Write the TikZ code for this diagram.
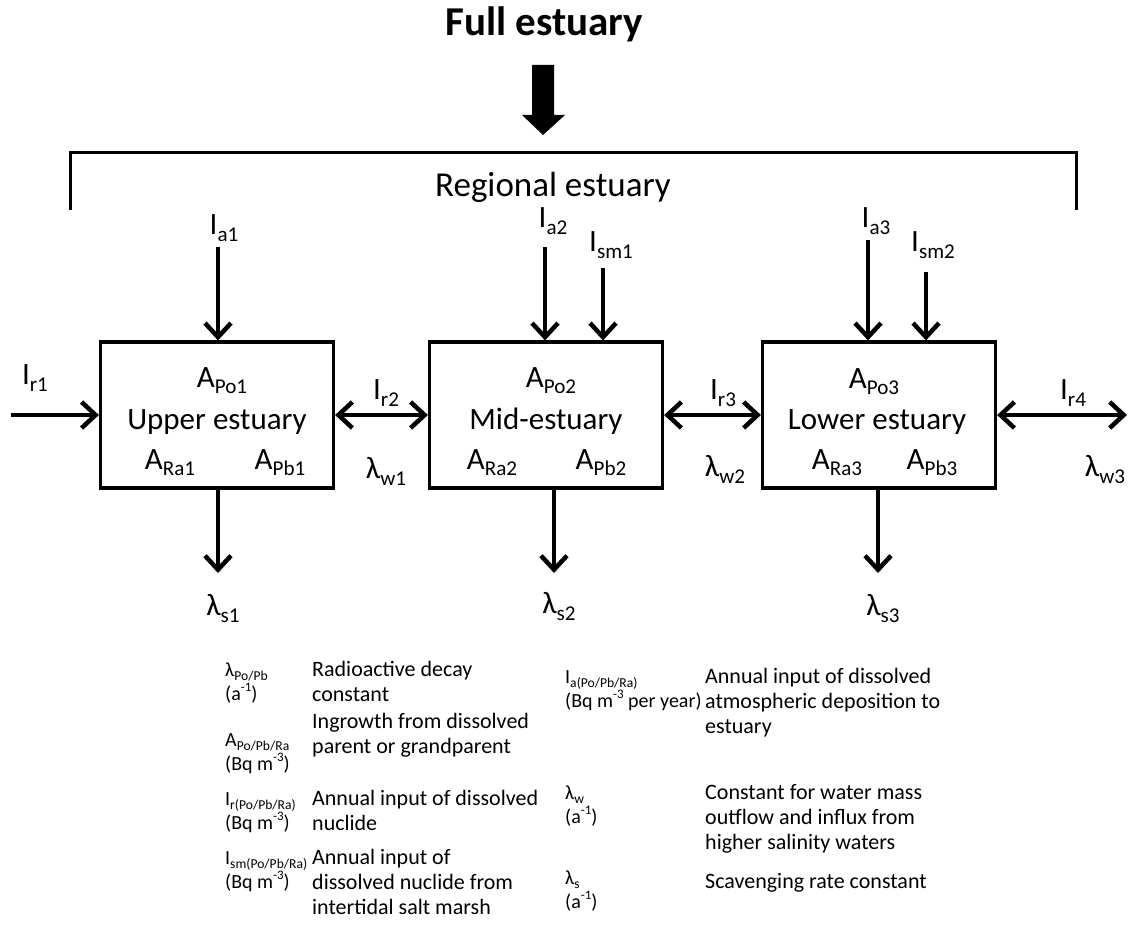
\documentclass[tikz,border=0pt]{standalone}
\usepackage{fontspec}
\setmainfont{Carlito}
\usetikzlibrary{arrows.meta,calc}

\newcommand{\sbs}[1]{\raisebox{-0.22em}{\fontsize{0.68em}{0.8em}\selectfont #1}}
\newcommand{\sps}[1]{\raisebox{0.42em}{\fontsize{0.65em}{0.8em}\selectfont #1}}
\newcommand{\boxfont}{\fontsize{31}{36}\selectfont}
\newcommand{\legfont}{\fontsize{22}{25}\selectfont}
\newcommand{\symfont}{\fontsize{20}{24}\selectfont}

\begin{document}
\begin{tikzpicture}[x=1pt,y=-1pt,>={Straight Barb[length=14pt,width=26pt]},
  comp/.style={draw,line width=3.2pt,minimum width=233pt,minimum height=146pt,inner sep=0pt},
  flow/.style={line width=4.5pt},
  lab/.style={inner sep=0pt,font=\boxfont},
  sym/.style={inner sep=0pt,anchor=base west,align=left,font=\symfont},
  note/.style={inner sep=0pt,anchor=base west,align=left,font=\legfont}]
\useasboundingbox (0,0) rectangle (1131,928);

% full and regional estuary
\node[lab,anchor=base,font=\fontsize{41}{48}\selectfont\bfseries] (full) at (544,36) {Full estuary};
\fill (532,65) -- (554,65) -- (554,115) -- (565,115) -- (543,135) -- (522,115) -- (532,115) -- cycle;
\draw[line width=3pt] (70,210) -- (70,153) -- (1076,153) -- (1076,210);
\node[lab,anchor=base,font=\fontsize{35}{40}\selectfont] (reg) at (553,196) {Regional estuary};

% boxes
\node[comp] (b1) at (217,415) {};
\node[comp] (b2) at (546,415) {};
\node[comp] (b3) at (879,415) {};
\node[lab,anchor=base] (po1) at (222,387) {A\sbs{Po1}};
\node[lab,anchor=base] (n1)  at (217,429) {Upper estuary};
\node[lab,anchor=base] (ra1) at (170,469) {A\sbs{Ra1}};
\node[lab,anchor=base] (pb1) at (280,469) {A\sbs{Pb1}};
\node[lab,anchor=base] (po2) at (551,387) {A\sbs{Po2}};
\node[lab,anchor=base] (n2)  at (546,429) {Mid-estuary};
\node[lab,anchor=base] (ra2) at (492,469) {A\sbs{Ra2}};
\node[lab,anchor=base] (pb2) at (601,469) {A\sbs{Pb2}};
\node[lab,anchor=base] (po3) at (874,388) {A\sbs{Po3}};
\node[lab,anchor=base] (n3)  at (877,429) {Lower estuary};
\node[lab,anchor=base] (ra3) at (837,469) {A\sbs{Ra3}};
\node[lab,anchor=base] (pb3) at (932,469) {A\sbs{Pb3}};

% inputs from above
\coordinate (ta1) at (218,247);
\coordinate (ta2) at (545,247);
\coordinate (tsm1) at (603,268);
\coordinate (ta3) at (868,240);
\coordinate (tsm2) at (926,272);
\node[lab,anchor=south] (ia1) at (224,242) {I\sbs{a1}};
\node[lab,anchor=south] (ia2) at (553,235) {I\sbs{a2}};
\node[lab,anchor=south] (ism1) at (611,259) {I\sbs{sm1}};
\node[lab,anchor=south] (ia3) at (876,235) {I\sbs{a3}};
\node[lab,anchor=south] (ism2) at (933,259) {I\sbs{sm2}};
\draw[flow,->] (ta1) -- (ta1 |- b1.north);
\draw[flow,->] (ta2) -- (ta2 |- b2.north);
\draw[flow,->] (tsm1) -- (tsm1 |- b2.north);
\draw[flow,->] (ta3) -- (ta3 |- b3.north);
\draw[flow,->] (tsm2) -- (tsm2 |- b3.north);

% scavenging
\coordinate (s1) at (218,573);
\coordinate (s2) at (554,573);
\coordinate (s3) at (878,573);
\draw[flow,->] (s1 |- b1.south) -- (s1);
\draw[flow,->] (s2 |- b2.south) -- (s2);
\draw[flow,->] (s3 |- b3.south) -- (s3);
\node[lab,anchor=north] (ls1) at (223,594) {λ\sbs{s1}};
\node[lab,anchor=north] (ls2) at (559,592) {λ\sbs{s2}};
\node[lab,anchor=north] (ls3) at (883,594) {λ\sbs{s3}};

% water exchange
\coordinate (r1) at (11,415);
\coordinate (r4) at (1127,415);
\draw[flow,->] (r1) -- (b1.west);
\draw[flow,<->] (b1.east) -- (b2.west);
\draw[flow,<->] (b2.east) -- (b3.west);
\draw[flow,<->] (b3.east) -- (r4);
\node[lab,anchor=south] (ir1) at (35,392) {I\sbs{r1}};
\node[lab,anchor=south] (ir2) at (386,407) {I\sbs{r2}};
\node[lab,anchor=south] (ir3) at (723,407) {I\sbs{r3}};
\node[lab,anchor=south] (ir4) at (1073,407) {I\sbs{r4}};
\node[lab,anchor=north] (lw1) at (386,457) {λ\sbs{w1}};
\node[lab,anchor=north] (lw2) at (725,455) {λ\sbs{w2}};
\node[lab,anchor=north] (lw3) at (1105,455) {λ\sbs{w3}};

% legend (base = last line)
\node[sym]  (k1) at (225,700) {λ\sbs{Po/Pb}\\(a\sps{-1})};
\node[note] (d1) at (312,701) {Radioactive decay\\constant};
\node[sym]  (k2) at (225,770) {A\sbs{Po/Pb/Ra}\\(Bq m\sps{-3})};
\node[note] (d2) at (312,753) {Ingrowth from dissolved\\parent or grandparent};
\node[sym]  (k3) at (225,829) {I\sbs{r(Po/Pb/Ra)}\\(Bq m\sps{-3})};
\node[note] (d3) at (312,830) {Annual input of dissolved\\nuclide};
\node[sym]  (k4) at (225,888) {I\sbs{sm(Po/Pb/Ra)}\\(Bq m\sps{-3})};
\node[note] (d4) at (312,914) {Annual input of\\dissolved nuclide from\\intertidal salt marsh};
\node[sym]  (k5) at (565,707) {I\sbs{a(Po/Pb/Ra)}\\(Bq m\sps{-3} per year)};
\node[note] (d5) at (705,733) {Annual input of dissolved\\atmospheric deposition to\\estuary};
\node[sym]  (k6) at (565,823) {λ\sbs{w}\\(a\sps{-1})};
\node[note] (d6) at (705,849) {Constant for water mass\\outflow and influx from\\higher salinity waters};
\node[sym]  (k7) at (565,908) {λ\sbs{s}\\(a\sps{-1})};
\node[note] (d7) at (705,888) {Scavenging rate constant};
\end{tikzpicture}
\end{document}
